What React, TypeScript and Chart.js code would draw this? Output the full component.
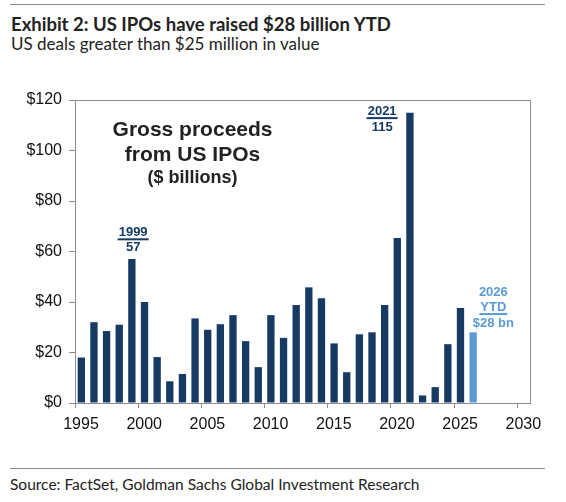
import React, { useEffect, useRef } from "react";
import { Chart, registerables } from "chart.js";

Chart.register(...registerables);

// ---- Data ----
const years = [
  1995, 1996, 1997, 1998, 1999, 2000, 2001, 2002, 2003, 2004, 2005, 2006, 2007, 2008, 2009, 2010,
  2011, 2012, 2013, 2014, 2015, 2016, 2017, 2018, 2019, 2020, 2021, 2022, 2023, 2024, 2025, 2026,
];
const proceeds = [
  18, 32, 28.5, 31, 57, 40, 18.2, 8.6, 11.5, 33.5, 29, 31.2, 34.8, 24.5, 14.2, 34.8,
  25.8, 38.8, 45.8, 41.5, 23.6, 12.2, 27.2, 28, 38.8, 65.3, 115, 3, 6.3, 23.3, 37.6, 28,
];
const ytdYears = [2026];
const xTickYears = [1995, 2000, 2005, 2010, 2015, 2020, 2025, 2030];
const yTickValues = [0, 20, 40, 60, 80, 100, 120];

const titleText = "Exhibit 2: US IPOs have raised $28 billion YTD";
const subtitleText = "US deals greater than $25 million in value";
const sourceText = "Source: FactSet, Goldman Sachs Global Investment Research";
const boxTitleLines = ["Gross proceeds", "from US IPOs", "($ billions)"];
const callout1999 = ["1999", "57"];
const callout2021 = ["2021", "115"];
const callout2026 = ["2026", "YTD", "$28 bn"];

const DARK = "#173a63";
const LIGHT = "#5b9bd5";
const AXIS = "#8c8c8c";

type LineSpec = { text: string; x: number; y: number; font: string; color: string; underline?: boolean };

const annotationPlugin = {
  id: "annotations",
  afterDraw(chart: any) {
    const { ctx, chartArea, scales } = chart;
    const xs = scales.x;
    const ys = scales.y;
    ctx.save();
    // top and right frame
    ctx.strokeStyle = AXIS;
    ctx.lineWidth = 1;
    ctx.beginPath();
    ctx.moveTo(chartArea.left, Math.round(chartArea.top) + 0.5);
    ctx.lineTo(Math.round(chartArea.right) + 0.5, Math.round(chartArea.top) + 0.5);
    ctx.lineTo(Math.round(chartArea.right) + 0.5, chartArea.bottom);
    ctx.stroke();

    const lines: LineSpec[] = [
      { text: boxTitleLines[0], x: 2004.3, y: 108.2, font: "bold 21px 'Liberation Sans'", color: "#222" },
      { text: boxTitleLines[1], x: 2004.3, y: 98.3, font: "bold 21px 'Liberation Sans'", color: "#222" },
      { text: boxTitleLines[2], x: 2004.3, y: 89.2, font: "bold 18px 'Liberation Sans'", color: "#222" },
      { text: callout1999[0], x: 1999.6, y: 67.4, font: "bold 13px 'Liberation Sans'", color: DARK, underline: true },
      { text: callout1999[1], x: 1999.6, y: 61.8, font: "bold 13px 'Liberation Sans'", color: DARK },
      { text: callout2021[0], x: 2019.3, y: 115.4, font: "bold 13px 'Liberation Sans'", color: DARK, underline: true },
      { text: callout2021[1], x: 2019.3, y: 109.3, font: "bold 13px 'Liberation Sans'", color: DARK },
      { text: callout2026[0], x: 2028.1, y: 43.7, font: "bold 13px 'Liberation Sans'", color: LIGHT },
      { text: callout2026[1], x: 2028.1, y: 37.8, font: "bold 13px 'Liberation Sans'", color: LIGHT, underline: true },
      { text: callout2026[2], x: 2028.1, y: 31.6, font: "bold 13px 'Liberation Sans'", color: LIGHT },
    ];
    ctx.textAlign = "center";
    ctx.textBaseline = "middle";
    for (const l of lines) {
      const px = xs.getPixelForValue(l.x);
      const py = ys.getPixelForValue(l.y);
      ctx.font = l.font;
      ctx.fillStyle = l.color;
      ctx.fillText(l.text, px, py);
      if (l.underline) {
        const w = ctx.measureText(l.text).width;
        ctx.fillRect(px - w / 2 - 1, py + 5.5, w + 2, 2);
      }
    }
    ctx.restore();
  },
};

export default function App() {
  const ref = useRef<HTMLCanvasElement | null>(null);

  useEffect(() => {
    if (!ref.current) return;
    const points = years.map((yr, i) => ({ x: yr + 0.5, y: proceeds[i] }));
    const colors = years.map((yr) => (ytdYears.includes(yr) ? LIGHT : DARK));
    const chart = new Chart(ref.current, {
      type: "bar",
      data: {
        datasets: [
          {
            data: points as any,
            backgroundColor: colors,
            borderWidth: 0,
            barPercentage: 0.58,
            categoryPercentage: 1,
          },
        ],
      },
      options: {
        animation: false,
        responsive: false,
        maintainAspectRatio: false,
        layout: { padding: { top: 40, right: 36, left: 0, bottom: 0 } },
        plugins: { legend: { display: false }, tooltip: { enabled: false } },
        scales: {
          x: {
            type: "linear",
            min: 1995,
            max: 2031,
            offset: false,
            afterBuildTicks: (s: any) => {
              s.ticks = xTickYears.map((v) => ({ value: v }));
            },
            afterFit: (s: any) => {
              s.height = 37;
            },
            grid: { display: true, drawOnChartArea: false, drawTicks: true, tickLength: 5, color: AXIS, offset: false },
            border: { display: true, color: AXIS },
            ticks: {
              autoSkip: false,
              maxRotation: 0,
              padding: 7,
              labelOffset: 6,
              color: "#111",
              font: { family: "'Liberation Sans', Arial, sans-serif", size: 16 },
              callback: (v: any) => String(v),
            },
          },
          y: {
            type: "linear",
            min: 0,
            max: 120,
            afterBuildTicks: (s: any) => {
              s.ticks = yTickValues.map((v) => ({ value: v }));
            },
            afterFit: (s: any) => {
              s.width = 75;
            },
            grid: { display: true, drawOnChartArea: false, drawTicks: true, tickLength: 6, color: AXIS },
            border: { display: true, color: AXIS },
            ticks: {
              padding: 7,
              color: "#111",
              font: { family: "'Liberation Sans', Arial, sans-serif", size: 16 },
              callback: (v: any) => "$" + v,
            },
          },
        },
      },
      plugins: [annotationPlugin],
    });
    return () => chart.destroy();
  }, []);

  return (
    <div style={{ position: "fixed", left: 0, top: 0, width: 566, height: 502, background: "#fff", overflow: "hidden" }}>
      <div style={{ position: "absolute", left: 10, top: 4, width: 535, height: 1, background: AXIS }} />
      <div
        style={{
          position: "absolute",
          left: 11,
          top: 13,
          font: "bold 18.5px Lato, sans-serif",
          color: "#222",
          whiteSpace: "nowrap",
        }}
      >
        {titleText}
      </div>
      <div
        style={{
          position: "absolute",
          left: 11,
          top: 33,
          font: "17px Lato, sans-serif",
          color: "#222",
          whiteSpace: "nowrap",
        }}
      >
        {subtitleText}
      </div>
      <canvas ref={ref} width={566} height={380} style={{ position: "absolute", left: 0, top: 60, width: 566, height: 380 }} />
      <div style={{ position: "absolute", left: 10, top: 468, width: 535, height: 1, background: AXIS }} />
      <div
        style={{
          position: "absolute",
          left: 10,
          top: 475,
          font: "15.5px Lato, sans-serif",
          color: "#222",
          whiteSpace: "nowrap",
        }}
      >
        {sourceText}
      </div>
    </div>
  );
}
